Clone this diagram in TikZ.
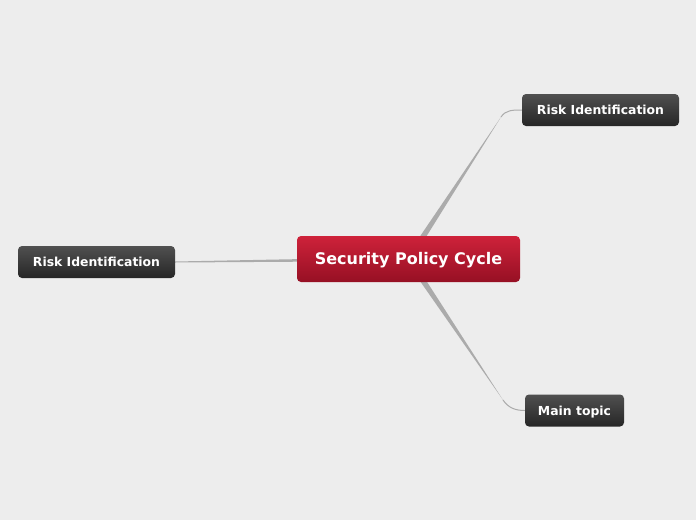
\documentclass[tikz,border=0pt]{standalone}
\usepackage{fontspec}
\setmainfont{DejaVu Sans}
\usepackage{tikz}
\usetikzlibrary{calc}
\definecolor{bg}{HTML}{EDEDED}
\definecolor{branchgray}{HTML}{ABABAB}
\tikzstyle{root}=[rectangle, rounded corners=4pt, draw=none, text=white, font=\bfseries\fontsize{16}{19}\selectfont, top color={rgb,255:red,206;green,34;blue,58}, bottom color={rgb,255:red,150;green,16;blue,36}, minimum width=223pt, minimum height=46pt, inner sep=0pt, text height=11.7pt, text depth=0pt]
\tikzstyle{topic}=[rectangle, rounded corners=4pt, draw=none, text=white, font=\bfseries\fontsize{12.4}{14}\selectfont, top color={rgb,255:red,80;green,80;blue,80}, bottom color={rgb,255:red,38;green,38;blue,38}, minimum height=32pt, inner sep=0pt, text height=9pt, text depth=0pt]
\tikzstyle{twig}=[draw=branchgray, line width=1pt]

\begin{document}
\begin{tikzpicture}[x=1pt,y=-1pt]
		\useasboundingbox[fill=bg] (0,0) rectangle (696,520);
		\coordinate (hub) at (408.5,259);
		\coordinate (e1) at (501,117);
		\coordinate (e3) at (503,400);
	%--------------------
		\fill[branchgray] ($(hub)!3.2pt!90:(e1)$) -- (e1) -- ($(hub)!3.2pt!-90:(e1)$) -- cycle;
		\fill[branchgray] ($(hub)!3.2pt!90:(e3)$) -- (e3) -- ($(hub)!3.2pt!-90:(e3)$) -- cycle;
		\fill[branchgray] ($(hub)!2pt!90:(175,262)$) -- (175,262.5) -- (175,261.5) -- ($(hub)!2pt!-90:(175,262)$) -- cycle;
	%--------------------
		\node[root] (spc) at (hub) {Security Policy Cycle};
		\node[topic, minimum width=157pt] (ri1) at (600.5,110) {Risk Identification};
		\node[topic, minimum width=157pt] (ri2) at (96.5,262) {Risk Identification};
		\node[topic, minimum width=99pt] (mt) at (574.5,410.5) {Main topic};
	%--------------------
		\draw[twig] (e1) to[out=57,in=180] (ri1.west);
		\draw[twig] (e3) to[out=-56,in=180] (mt.west);
	\end{tikzpicture}
\end{document}
